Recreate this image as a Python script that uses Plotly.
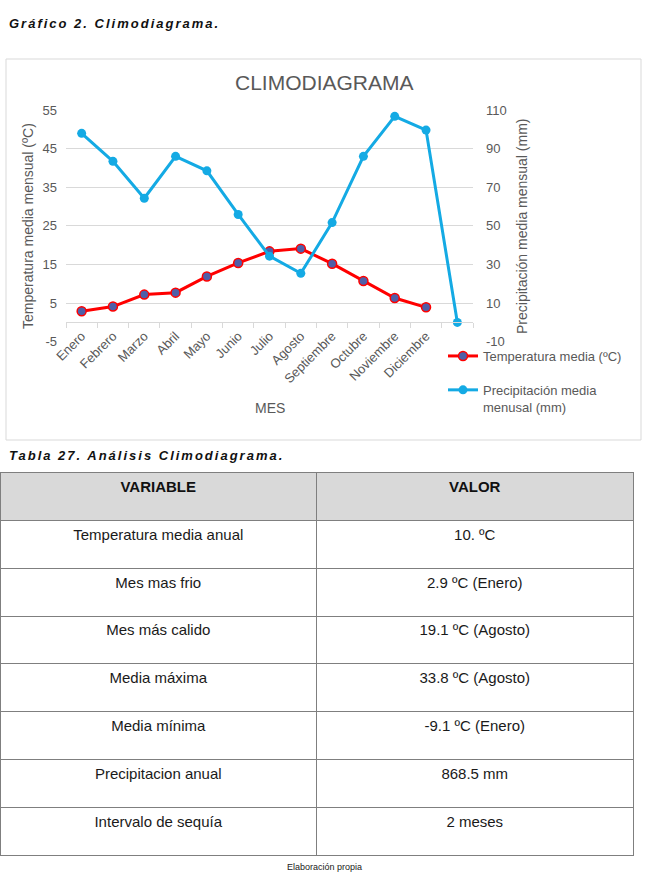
import plotly.graph_objects as go

# ---------------- data ----------------
MESES = ["Enero", "Febrero", "Marzo", "Abril", "Mayo", "Junio", "Julio",
         "Agosto", "Septiembre", "Octubre", "Noviembre", "Diciembre"]
TEMP = [2.9, 4.1, 7.2, 7.7, 11.9, 15.4, 18.4, 19.1, 15.2, 10.7, 6.3, 3.9]
# 13th point (no month label) is drawn at 0 in the original chart
PRECIP = [97.9, 83.4, 64.3, 86.0, 78.5, 55.9, 34.3, 25.4, 51.7, 86.0, 106.7, 99.6, 0.0]

Y_TICKS = [-5, 5, 15, 25, 35, 45, 55]
Y2_TICKS = [-10, 10, 30, 50, 70, 90, 110]

NOMBRE_TEMP = "Temperatura media (ºC)"
NOMBRE_PRECIP = "Precipitación media<br>menusal (mm)"

TABLA_HEADER = ["VARIABLE", "VALOR"]
TABLA_VARIABLE = ["Temperatura media anual", "Mes mas frio", "Mes más calido",
                  "Media máxima", "Media mínima", "Precipitacion anual",
                  "Intervalo de sequía"]
TABLA_VALOR = ["10. ºC", "2.9 ºC (Enero)", "19.1 ºC (Agosto)", "33.8 ºC (Agosto)",
               "-9.1 ºC (Enero)", "868.5 mm", "2 meses"]

# ---------------- layout helpers ----------------
W, H = 646, 873
FONT = "Liberation Sans, Arial, sans-serif"
GRAY = "#595959"
GRID = "#D9D9D9"


def fx(px):
    return px / W


def fy(py):
    return 1 - py / H


Y_RANGE = [Y_TICKS[0], Y_TICKS[-1]]
Y2_RANGE = [Y2_TICKS[0], Y2_TICKS[-1]]
ydom = [fy(341.7), fy(110)]
xdom = [fx(66), fx(473)]
x_axis_pos = ydom[0] + (0 - Y_RANGE[0]) / (Y_RANGE[1] - Y_RANGE[0]) * (ydom[1] - ydom[0])

fig = go.Figure()

fig.add_trace(go.Scatter(
    x=list(range(len(TEMP))), y=TEMP, name=NOMBRE_TEMP, mode="lines+markers",
    line=dict(color="#FF0000", width=3), legendgroup="t",
    marker=dict(size=9, color="#4F5FA8", line=dict(color="#FF0000", width=1.5)),
    yaxis="y",
))
fig.add_trace(go.Scatter(
    x=list(range(len(PRECIP))), y=PRECIP, name=NOMBRE_PRECIP, mode="lines+markers",
    line=dict(color="#14AAE4", width=3), legendgroup="p",
    marker=dict(size=9, color="#14AAE4"),
    yaxis="y2",
))

n_cat = len(PRECIP)
fig.update_layout(
    width=W, height=H,
    margin=dict(l=0, r=0, t=0, b=0, pad=0, autoexpand=False),
    paper_bgcolor="white", plot_bgcolor="white",
    font=dict(family=FONT, color=GRAY),
    xaxis=dict(
        domain=xdom, anchor="free", position=x_axis_pos,
        range=[-0.5, n_cat - 0.5], automargin=False,
        tickmode="array", tickvals=list(range(len(MESES))), ticktext=MESES,
        tickangle=-45, ticks="", showgrid=False, zeroline=False,
        showline=True, linecolor=GRID, linewidth=1,
        tickfont=dict(size=13, color=GRAY),
        minor=dict(tickmode="array", tickvals=[i - 0.5 for i in range(n_cat + 1)],
                   ticks="outside", ticklen=5, tickcolor=GRID, showgrid=False),
    ),
    yaxis=dict(
        domain=ydom, anchor="x", range=Y_RANGE, automargin=False,
        tickmode="array", tickvals=Y_TICKS, ticktext=[str(v) for v in Y_TICKS],
        showgrid=True, gridcolor=GRID, gridwidth=1, zeroline=False, ticks="",
        showline=False, tickfont=dict(size=13, color=GRAY), ticklabelstandoff=8,
    ),
    yaxis2=dict(
        domain=ydom, anchor="x", overlaying="y", side="right", range=Y2_RANGE,
        automargin=False,
        tickmode="array", tickvals=Y2_TICKS, ticktext=[str(v) for v in Y2_TICKS],
        showgrid=False, zeroline=False,
        ticks="", showline=False, tickfont=dict(size=13, color=GRAY), ticklabelstandoff=12,
    ),
    legend=dict(
        x=fx(443), y=fy(341), xanchor="left", yanchor="top",
        font=dict(size=13, color=GRAY), tracegroupgap=14, itemwidth=30,
        valign="top", bgcolor="rgba(0,0,0,0)",
    ),
    showlegend=True,
)

# table
fig.add_trace(go.Table(
    domain=dict(x=[0, fx(633)], y=[fy(859), fy(472.7)]),
    columnwidth=[1, 1],
    header=dict(values=TABLA_HEADER, fill_color="#D9D9D9",
                line=dict(color="#7F7F7F", width=1), align="center",
                font=dict(family=FONT, size=15, color="#111111", weight="bold"),
                height=47.8),
    cells=dict(values=[TABLA_VARIABLE, TABLA_VALOR],
               fill_color="white",
               line=dict(color="#7F7F7F", width=1), align="center",
               font=dict(family=FONT, size=15, color="#1a1a1a"), height=47.8),
))

# chart frame
fig.add_shape(type="rect", xref="paper", yref="paper",
              x0=fx(6), x1=fx(641), y0=fy(440), y1=fy(59),
              line=dict(color=GRID, width=1), fillcolor="rgba(0,0,0,0)", layer="below")

ann = [
    dict(text='<span style="letter-spacing:2px">Gráfico 2. Climodiagrama.</span>',
         x=fx(7), y=fy(23), xanchor="left", yanchor="middle",
         font=dict(size=13, color="#111111", weight="bold", style="italic")),
    dict(text="CLIMODIAGRAMA", x=fx(324), y=fy(82), xanchor="center", yanchor="middle",
         font=dict(size=21, color=GRAY)),
    dict(text="Temperatura media mensual (ºC)", x=fx(28), y=fy(226), textangle=-90,
         xanchor="center", yanchor="middle", font=dict(size=14, color=GRAY)),
    dict(text="Precipitación media mensual (mm)", x=fx(522), y=fy(226), textangle=-90,
         xanchor="center", yanchor="middle", font=dict(size=14, color=GRAY)),
    dict(text="MES", x=fx(269.5), y=fy(408), xanchor="center", yanchor="middle",
         font=dict(size=14, color=GRAY)),
    dict(text='<span style="letter-spacing:2px">Tabla 27. Análisis Climodiagrama.</span>',
         x=fx(7), y=fy(455), xanchor="left", yanchor="middle",
         font=dict(size=13, color="#111111", weight="bold", style="italic")),
    dict(text="Elaboración propia", x=fx(324), y=fy(867), xanchor="center",
         yanchor="middle", font=dict(size=9, color="#222222")),
]
for a in ann:
    a.update(xref="paper", yref="paper", showarrow=False)
fig.update_layout(annotations=ann)

fig.write_html("out.html")
